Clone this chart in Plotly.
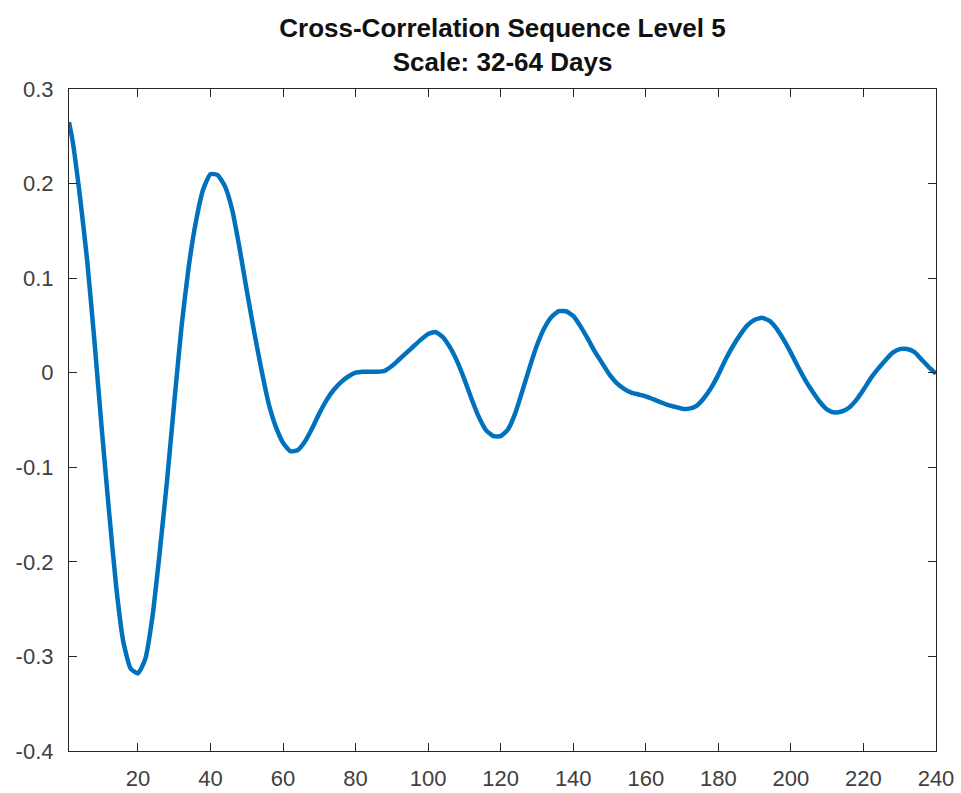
import plotly.graph_objects as go

# Cross-correlation at wavelet level 5 (lags in days)
lags = [1] + list(range(2, 241, 2))
xcorr = [
    0.265,
    0.245, 0.187, 0.119, 0.034, -0.058, -0.145, -0.226, -0.285, -0.313, -0.318,
    -0.303, -0.258, -0.190, -0.115, -0.032, 0.048, 0.112, 0.160, 0.194, 0.210,
    0.209, 0.197, 0.172, 0.132, 0.087, 0.044, 0.004, -0.032, -0.057, -0.074,
    -0.083, -0.082, -0.073, -0.059, -0.043, -0.029, -0.018, -0.010, -0.004, 0.000,
    0.001, 0.001, 0.001, 0.002, 0.007, 0.014, 0.021, 0.028, 0.035, 0.041,
    0.043, 0.038, 0.027, 0.012, -0.007, -0.028, -0.047, -0.061, -0.067, -0.067,
    -0.060, -0.043, -0.019, 0.006, 0.029, 0.047, 0.059, 0.065, 0.065, 0.060,
    0.049, 0.036, 0.022, 0.010, -0.002, -0.011, -0.017, -0.021, -0.023, -0.025,
    -0.028, -0.031, -0.034, -0.036, -0.038, -0.038, -0.035, -0.027, -0.016, -0.002,
    0.014, 0.028, 0.040, 0.050, 0.056, 0.058, 0.055, 0.047, 0.035, 0.021,
    0.006, -0.008, -0.020, -0.031, -0.039, -0.042, -0.041, -0.037, -0.029, -0.018,
    -0.006, 0.004, 0.013, 0.021, 0.025, 0.025, 0.022, 0.014, 0.006, -0.001,
]

x_ticks = list(range(20, 241, 20))
y_ticks = [-0.4, -0.3, -0.2, -0.1, 0.0, 0.1, 0.2, 0.3]
y_tick_labels = ["-0.4", "-0.3", "-0.2", "-0.1", "0", "0.1", "0.2", "0.3"]

title_lines = ["Cross-Correlation Sequence Level 5", "Scale: 32-64 Days"]

fig = go.Figure(
    go.Scatter(
        x=lags,
        y=xcorr,
        mode="lines",
        line=dict(color="#0072BD", width=4.5, shape="spline", smoothing=0.5),
        hoverinfo="skip",
    )
)

axis_common = dict(
    showline=True,
    linecolor="#262626",
    linewidth=1.2,
    mirror="ticks",
    ticks="inside",
    ticklen=8,
    tickwidth=1.2,
    tickcolor="#262626",
    showgrid=False,
    zeroline=False,
    automargin=False,
    tickfont=dict(family="Liberation Sans, Arial, sans-serif", size=22, color="#404040"),
)

fig.update_xaxes(range=[1, 240], tickvals=x_ticks, ticklabelstandoff=7, **axis_common)
fig.update_yaxes(
    range=[-0.4, 0.3], tickvals=y_ticks, ticktext=y_tick_labels,
    ticklabelstandoff=10, **axis_common
)

fig.update_layout(
    width=961,
    height=793,
    margin=dict(l=69, r=25, t=89, b=42),
    paper_bgcolor="white",
    plot_bgcolor="white",
    showlegend=False,
    title=dict(
        text="<b>" + "<br>".join(title_lines) + "</b>",
        x=(69 + 936) / 2 / 961,
        xanchor="center",
        yref="container",
        y=1 - 37 / 793,
        yanchor="middle",
        font=dict(family="Liberation Sans, Arial, sans-serif", size=26, color="#111111"),
    ),
)

fig.write_html("out.html")
